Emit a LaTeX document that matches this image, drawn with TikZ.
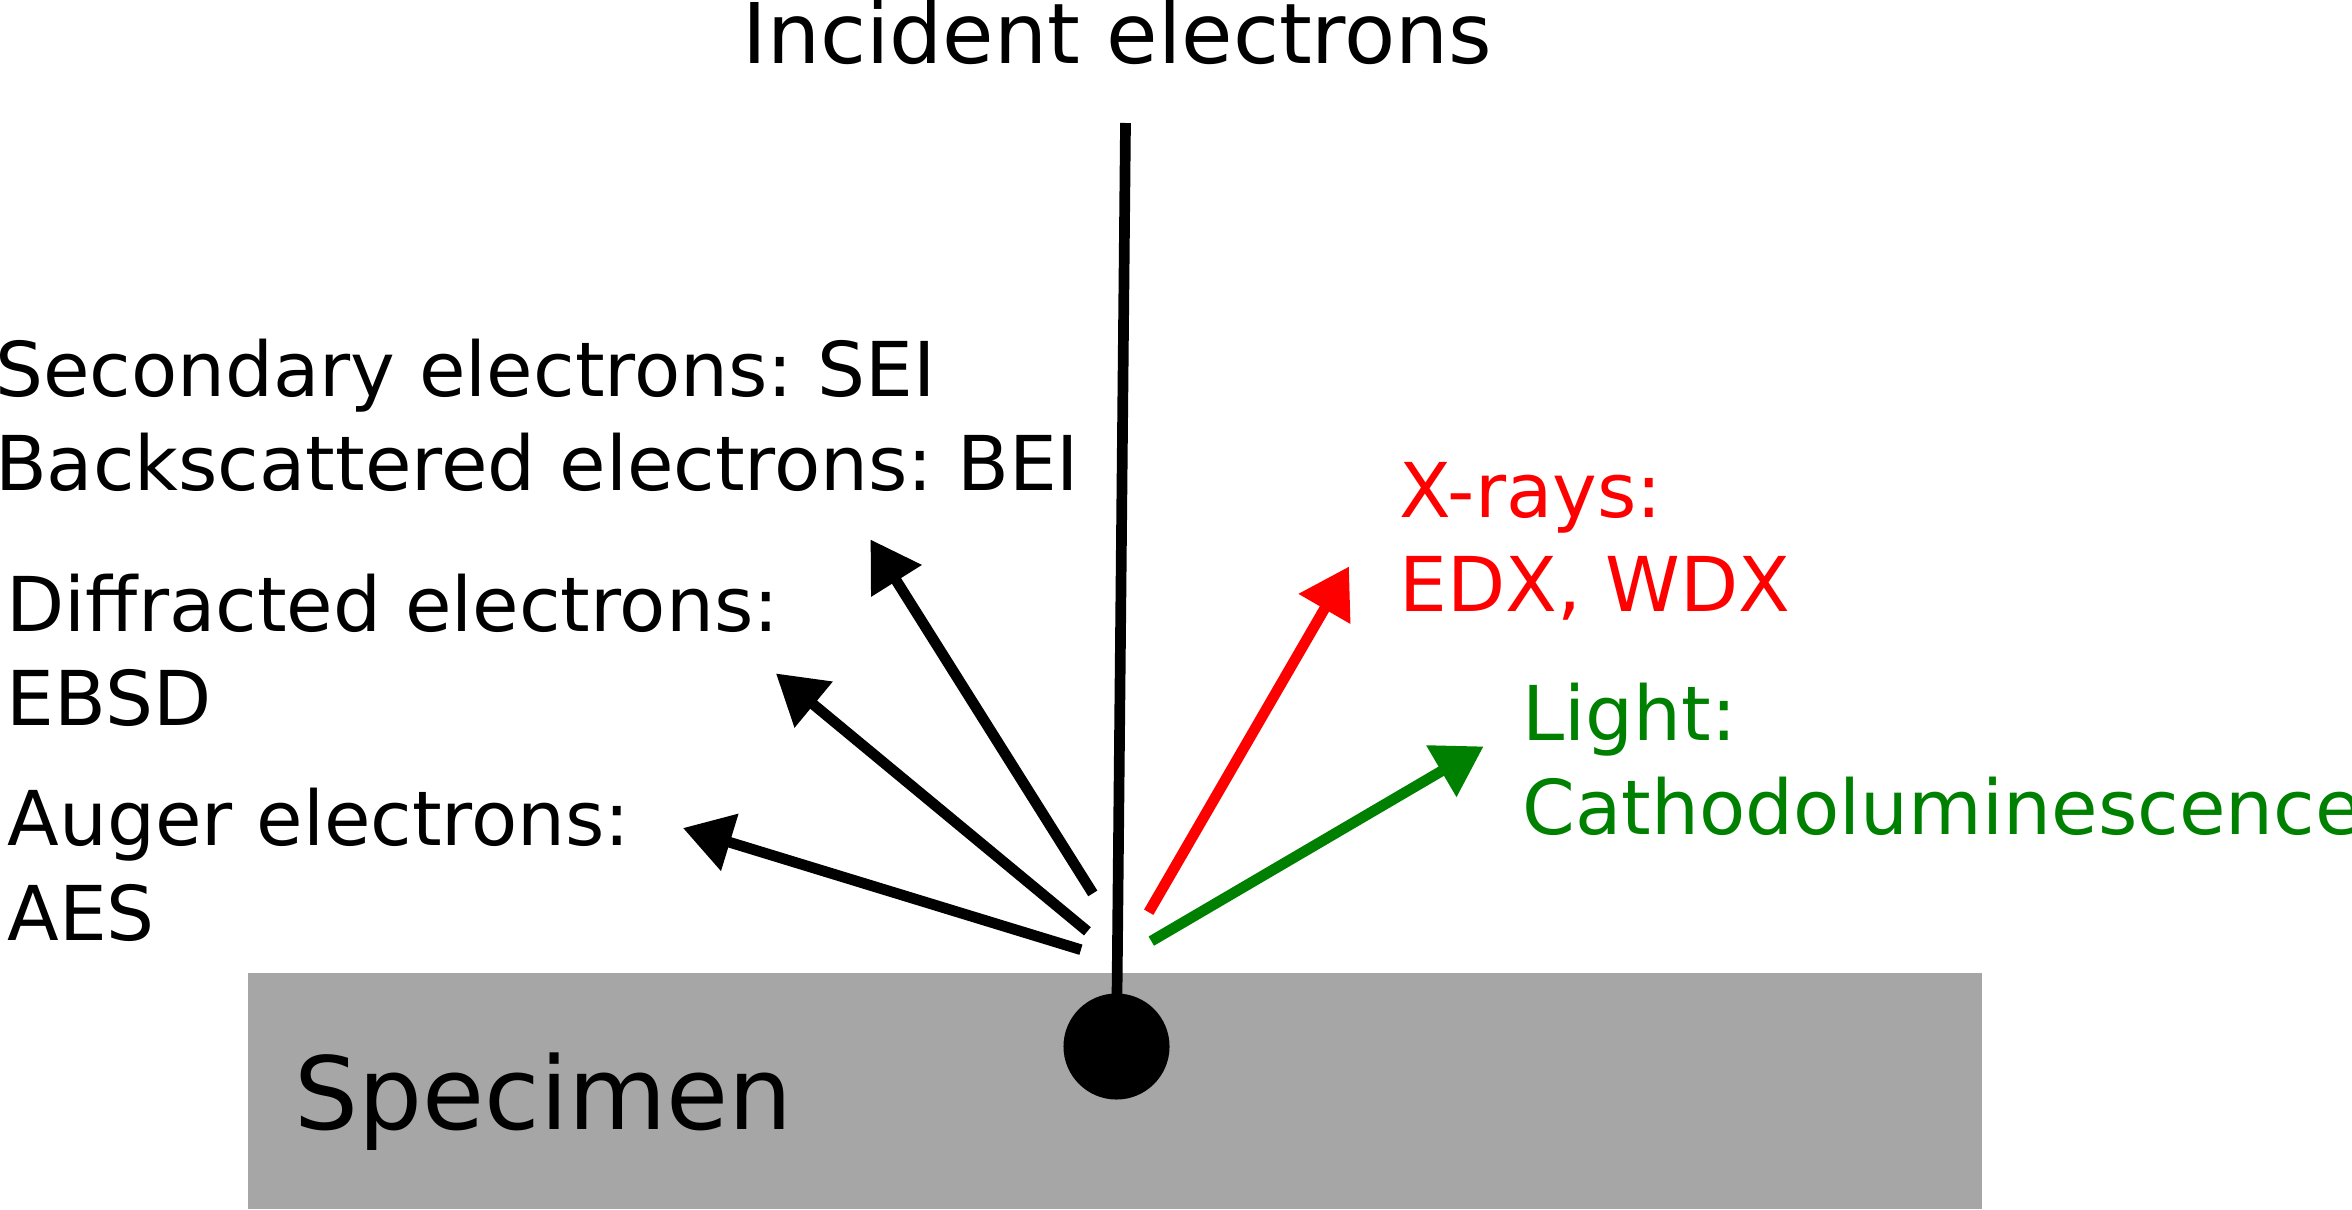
\documentclass[tikz,border=0pt]{standalone}
\usepackage{fontspec}
\setmainfont{DejaVu Sans}
\usetikzlibrary{arrows.meta}
\frenchspacing

\definecolor{specgray}{RGB}{166,166,166}
\definecolor{xred}{RGB}{255,0,0}
\definecolor{lgreen}{RGB}{0,128,0}

\tikzset{
    beam/.style={line width=0.107cm, -{Triangle[length=0.49cm,width=0.57cm]}},
    txt/.style={anchor=base west, inner sep=0pt, font=\fontsize{21.5pt}{26.7pt}\selectfont},
}

\begin{document}
\begin{tikzpicture}[x=0.01cm,y=-0.01cm]
    \useasboundingbox (0,0) rectangle (2352,1209);

    % Specimen
    \fill[specgray] (247.5,973) rectangle (1982,1209);
    \node[anchor=base west, inner sep=0pt, font=\fontsize{28.7pt}{34pt}\selectfont] (spec) at (294,1129) {Specimen};

    % Incident beam
    \node[anchor=base west, inner sep=0pt, font=\fontsize{23.8pt}{28pt}\selectfont] (inc) at (742,63) {Incident electrons};
    \coordinate (itop) at (1125.5,123);
    \node[shape=circle, fill=black, inner sep=0pt, minimum size=1.06cm] (dot) at (1116.5,1046.5) {};
    \draw[line width=0.107cm] (itop) -- (dot.center);

    % Signals
    \coordinate (se0) at (1092.8,893.4);
    \coordinate (se1) at (870.4,539.4);
    \coordinate (df0) at (1087.4,931.3);
    \coordinate (df1) at (775.9,673.4);
    \coordinate (au0) at (1080.9,949.7);
    \coordinate (au1) at (682.9,828.0);
    \coordinate (xr0) at (1148.7,912.2);
    \coordinate (xr1) at (1349,566.5);
    \coordinate (li0) at (1151.3,941.1);
    \coordinate (li1) at (1483.6,746.4);

    \draw[beam] (se0) -- (se1);
    \draw[beam] (df0) -- (df1);
    \draw[beam] (au0) -- (au1);
    \draw[beam, xred] (xr0) -- (xr1);
    \draw[beam, lgreen] (li0) -- (li1);

    % Labels
    \node[txt] (se) at (-5.7,396.5) {Secondary electrons: SEI};
    \node[txt] (bse) at (-5.7,490.5) {Backscattered electrons: BEI};
    \node[txt] (df) at (6,631) {Diffracted electrons:};
    \node[txt] (ebsd) at (6,725) {EBSD};
    \node[txt] (au) at (6.7,845.7) {Auger electrons:};
    \node[txt] (aes) at (6.7,940) {AES};
    \node[txt, xred] (xr) at (1399,517.4) {X-rays:};
    \node[txt, xred] (edx) at (1399,611.2) {EDX, WDX};
    \node[txt, lgreen] (li) at (1522,740.6) {Light:};
    \node[txt, lgreen] (cl) at (1522,834) {Cathodoluminescence};
\end{tikzpicture}
\end{document}
